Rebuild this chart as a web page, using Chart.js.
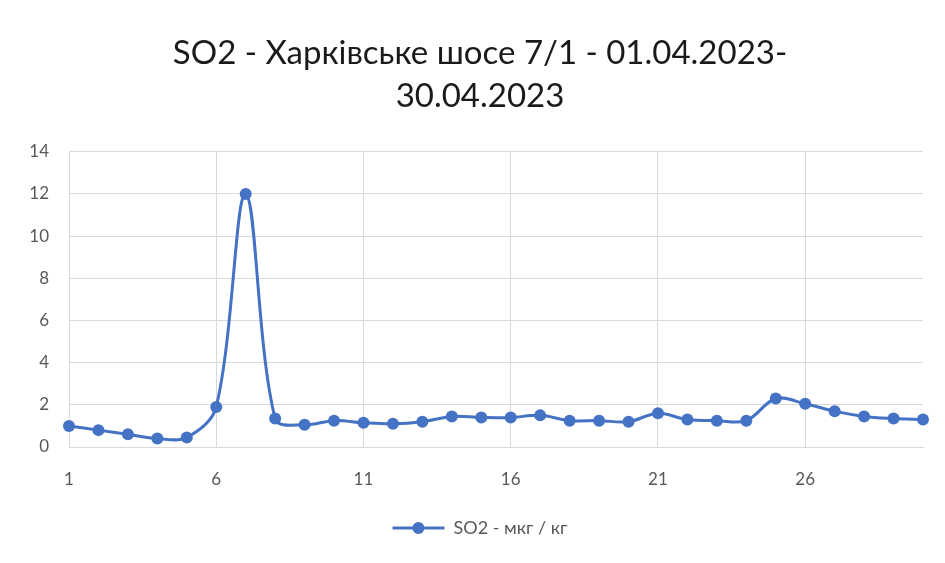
<!DOCTYPE html>
<html>
<head>
<meta charset="utf-8">
<script src="https://cdn.jsdelivr.net/npm/chart.js@4/dist/chart.umd.min.js"></script>
<style>
  html, body { margin: 0; padding: 0; background: #fff; }
  #wrap { width: 945px; height: 563px; }
</style>
</head>
<body>
<div id="wrap"><canvas id="myChart" width="945" height="563"></canvas></div>
<script>
// days of April 2023
const days = [1, 2, 3, 4, 5, 6, 7, 8, 9, 10, 11, 12, 13, 14, 15,
  16, 17, 18, 19, 20, 21, 22, 23, 24, 25, 26, 27, 28, 29, 30];
// SO2, мкг / кг
const so2 = [1.0, 0.8, 0.6, 0.4, 0.45, 1.9, 12.0, 1.35, 1.05, 1.25,
  1.15, 1.1, 1.2, 1.45, 1.4, 1.4, 1.5, 1.25, 1.25, 1.2,
  1.6, 1.3, 1.25, 1.25, 2.3, 2.05, 1.7, 1.45, 1.35, 1.3];
const yTicks = [0, 2, 4, 6, 8, 10, 12, 14];
const titleLines = ["SO2 - Харківське шосе 7/1 - 01.04.2023-", "30.04.2023"];
const seriesName = "SO2 - мкг / кг";

const lineColor = "#4472C4";
const tickColor = "#595959";
const gridColor = "#d9d9d9";

var config = {
  type: "line",
  data: {
    labels: days,
    datasets: [
      {
        label: seriesName,
        data: so2,
        borderColor: lineColor,
        backgroundColor: lineColor,
        borderWidth: 3,
        pointRadius: 6,
        pointHoverRadius: 6,
        pointBorderWidth: 0,
        tension: 0.35,
        fill: false,
      },
    ],
  },
  options: {
    responsive: false,
    animation: false,
    layout: {
      padding: { top: 26, right: 13, left: 28, bottom: 16 },
    },
    plugins: {
      title: {
        display: true,
        text: titleLines,
        color: "#1a1a1a",
        font: { family: "Lato", size: 33, weight: "normal", lineHeight: 1.33 },
        padding: { top: 5, bottom: 33 },
      },
      legend: {
        position: "bottom",
        labels: {
          color: tickColor,
          font: { family: "Lato", size: 18 },
          boxWidth: 52,
          boxHeight: 3,
          padding: 10,
          generateLabels: function (chart) {
            return [{
              text: seriesName,
              strokeStyle: lineColor,
              fillStyle: lineColor,
              lineWidth: 0,
              datasetIndex: 0,
              fontColor: tickColor,
            }];
          },
        },
      },
      tooltip: { enabled: false },
    },
    scales: {
      x: {
        type: "category",
        offset: false,
        grid: {
          drawTicks: false,
          color: function (ctx) {
            return (ctx.index % 5 === 0) ? gridColor : "rgba(0,0,0,0)";
          },
        },
        border: { color: gridColor },
        ticks: {
          autoSkip: false,
          maxRotation: 0,
          padding: 22,
          color: tickColor,
          font: { family: "Lato", size: 17 },
          callback: function (val, i) {
            return (i % 5 === 0) ? days[i] : "";
          },
        },
        afterFit: function (scale) { scale.height = 62; },
      },
      y: {
        min: 0,
        max: 14,
        afterBuildTicks: function (scale) {
          scale.ticks = yTicks.map((v) => ({ value: v }));
        },
        grid: { drawTicks: false, color: gridColor },
        border: { display: false },
        ticks: {
          padding: 20,
          color: tickColor,
          font: { family: "Lato", size: 17 },
        },
        afterFit: function (scale) { scale.width = 41; },
      },
    },
  },
};

// marker dot in the middle of the legend line, like the Excel legend
const legendDot = {
  id: "legendDot",
  afterDraw(chart) {
    const lg = chart.legend;
    if (!lg || !lg.legendHitBoxes || !lg.legendHitBoxes.length) return;
    const box = lg.legendHitBoxes[0];
    const ctx = chart.ctx;
    const cx = box.left + 26;
    const cy = box.top + box.height / 2;
    ctx.save();
    ctx.fillStyle = lineColor;
    ctx.beginPath();
    ctx.arc(cx, cy, 6, 0, Math.PI * 2);
    ctx.fill();
    ctx.restore();
  },
};

const ctx = document.getElementById("myChart").getContext("2d");
const myChart = new Chart(ctx, { ...config, plugins: [legendDot] });
</script>
</body>
</html>
